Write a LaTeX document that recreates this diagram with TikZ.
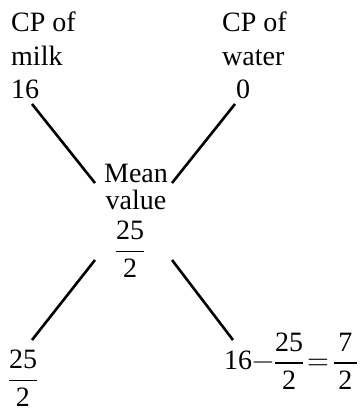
\documentclass[tikz,border=0pt]{standalone}
\usepackage{amsmath}
\usepackage{unicode-math}
\setmainfont{Liberation Serif}
\newcommand{\tx}[1]{\text{#1}}
\begin{document}
\begin{tikzpicture}[x=1pt,y=1pt,
  lbl/.style={inner sep=0pt, font=\fontsize{28}{33.5}\selectfont, align=left},
  link/.style={line width=2.6pt}]
\useasboundingbox (0,0) rectangle (363,413);
\node[lbl, anchor=north west] (milk) at (11,401) {CP of\\milk\\16};
\node[lbl, anchor=north west] (water) at (222,401) {CP of\\water\\\hspace*{14pt}0};
\node[lbl, align=center, font=\fontsize{28}{27}\selectfont, anchor=north] (mean) at (136,249.5) {Mean\\value};
\node[lbl, anchor=base] (meanv) at (130,154.5) {$\dfrac{\tx{25}}{\tx{2}}$};
\node[lbl, anchor=base] (left) at (23,25.5) {$\dfrac{\tx{25}}{\tx{2}}$};
\node[lbl, anchor=base west] (right) at (224,43) {$\tx{16}{-}\dfrac{\tx{25}}{\tx{2}}\mkern2mu{=}\mkern2mu\dfrac{\tx{\,7\,}}{\tx{2}}$};
\coordinate (m1) at (32,309);
\coordinate (m2) at (95,230);
\coordinate (w1) at (235,309);
\coordinate (w2) at (172,230);
\coordinate (l1) at (95,153);
\coordinate (l2) at (32,73);
\coordinate (r1) at (172,153);
\coordinate (r2) at (233,73);
\draw[link] (m1) -- (m2);
\draw[link] (w1) -- (w2);
\draw[link] (l1) -- (l2);
\draw[link] (r1) -- (r2);
\end{tikzpicture}
\end{document}
